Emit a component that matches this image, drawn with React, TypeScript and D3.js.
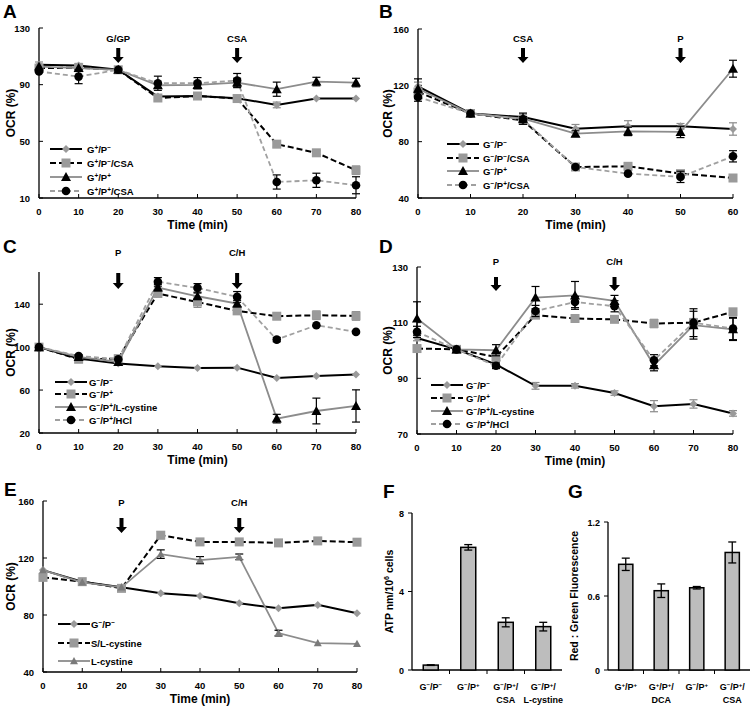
import React from 'react';
import * as d3 from 'd3';

const FONT = "'Liberation Sans', Arial, Helvetica, sans-serif";

const time80 = [0, 10, 20, 30, 40, 50, 60, 70, 80];
const time60 = [0, 10, 20, 30, 40, 50, 60];

// Panel A
const aNames = ['G{+}/P{−}', 'G{+}/P{−}/CSA', 'G{+}/P{+}', 'G{+}/P{+}/CSA'];
const aGpPm = [104, 103.5, 100.5, 81.6, 82, 80.4, 75.7, 80.2, 80.2];
const aGpPmErr = [2, 1.5, 1, 1, 1, 1, 2, 1, 1];
const aGpPmCsa = [101.7, 102, 100.5, 80.6, 82, 80.2, 48, 41.9, 29.6];
const aGpPmCsaErr = [1, 1, 1, 2, 2, 1.5, 2, 1.5, 3];
const aGpPp = [102.8, 101.7, 100.5, 89.6, 89.8, 91.5, 86.8, 92.2, 91.5];
const aGpPpErr = [1, 1, 1, 2, 2, 3, 5, 3, 3];
const aGpPpCsa = [99.3, 95.7, 100.5, 91, 91, 92.9, 21.3, 22.5, 19];
const aGpPpCsaErr = [1, 5, 1, 5, 4, 5, 5, 5, 6];

// Panel B
const bNames = ['G{−}/P{−}', 'G{−}/P{−}/CSA', 'G{−}/P{+}', 'G{−}/P{+}/CSA'];
const bGmPm = [119.3, 100, 97.5, 89.2, 90.9, 90.9, 89];
const bGmPmErr = [3, 1, 2, 3, 4, 2, 4.4];
const bGmPmCsa = [115.3, 100, 95.1, 62, 62.5, 57.3, 54.2];
const bGmPmCsaErr = [2, 1, 2, 1, 1, 2, 1];
const bGmPp = [117.6, 100, 96.3, 85.7, 87.3, 86.9, 131.8];
const bGmPpErr = [7, 1, 4, 2, 3, 4, 6];
const bGmPpCsa = [111.7, 100, 95.9, 62, 57.3, 55, 69.6];
const bGmPpCsaErr = [3, 1, 2, 1, 1, 4, 4];

// Panel C
const cNames = ['G{−}/P{−}', 'G{−}/P{+}', 'G{−}/P{+}/L-cystine', 'G{−}/P{+}/HCl'];
const cGmPm = [100, 89.3, 84.7, 82.2, 80.6, 80.9, 71.3, 73.2, 74.4];
const cGmPmErr = [1, 1, 1, 1, 1, 1, 1, 1, 1];
const cGmPp = [100, 88.7, 89.3, 150, 142, 133.8, 128.8, 129.7, 129.1];
const cGmPpErr = [1, 1, 1, 3, 5, 3, 3, 4, 4];
const cLcys = [100, 90.9, 86.2, 155.5, 147.4, 140.6, 33.4, 40.5, 45.2];
const cLcysErr = [1, 2, 1, 3, 3, 3, 4, 12, 15];
const cHcl = [100, 91.8, 88.7, 160.8, 155.2, 146.8, 107, 120.4, 114.2];
const cHclErr = [1, 1, 1, 4, 4, 5, 2, 1, 1];

// Panel D
const dNames = ['G{−}/P{−}', 'G{−}/P{+}', 'G{−}/P{+}/L-cystine', 'G{−}/P{+}/HCl'];
const dGmPm = [104.5, 100.4, 95, 87.3, 87.3, 84.7, 80, 80.8, 77.4];
const dGmPmErr = [1, 0.5, 1, 1.2, 0.8, 0.8, 2, 1.5, 1];
const dGmPp = [100.7, 100.4, 97.7, 112.7, 111.5, 111.2, 109.7, 110, 113.9];
const dGmPpErr = [1, 0.5, 1, 1, 1, 1, 1.5, 1.5, 1];
const dLcys = [111.5, 100.4, 100.1, 119, 119.8, 117.8, 94.7, 109.1, 107.6];
const dLcysErr = [6, 0.5, 2, 4, 5, 2, 2, 5, 4];
const dHcl = [106.7, 100.4, 94.5, 114.2, 117.4, 115.9, 96.5, 110, 107.9];
const dHclErr = [2, 0.5, 1, 2, 2, 2, 2, 5, 4];

// Panel E
const eNames = ['G{−}/P{−}', 'S/L-cystine', 'L-cystine'];
const eGmPm = [111.5, 103.4, 99.4, 95.2, 93.4, 88.2, 84.7, 87.1, 81.2];
const eGmPmErr = [1, 1, 1, 1, 1, 1, 1, 1, 1];
const eSLcys = [106.4, 103.4, 98.7, 136, 131.3, 131.3, 130.6, 132, 131.1];
const eSLcysErr = [1, 1, 1, 2.5, 1.5, 1.5, 1.5, 1, 1];
const eLcys = [111.5, 102.9, 99.4, 122.7, 118.5, 120.8, 67.3, 60.3, 59.8];
const eLcysErr = [1, 1, 1, 3, 2.5, 2, 2, 1, 1];

// Panel F
const fCats = [['G{−}/P{−}'], ['G{−}/P{+}'], ['G{−}/P{+}/', 'CSA'], ['G{−}/P{+}/', 'L-cystine']];
const fVals = [0.25, 6.25, 2.43, 2.21];
const fErr = [0.03, 0.14, 0.23, 0.22];
const fTicks = [0, 4, 8];

// Panel G
const gCats = [['G{+}/P{+}'], ['G{+}/P{+}/', 'DCA'], ['G{−}/P{+}'], ['G{−}/P{+}/', 'CSA']];
const gVals = [0.857, 0.643, 0.667, 0.953];
const gErr = [0.05, 0.055, 0.01, 0.085];
const gTicks = [0, 0.6, 1.2];

type StyleKey = 'bkSolidDia' | 'bkDashSq' | 'grSolidTri' | 'grDashCirc' | 'grSolidTriSmall';
const STYLES: Record<string, any> = {
  bkSolidDia: { stroke: '#000', width: 2, dash: null, marker: 'diamond', fill: '#9a9a9a', err: '#8a8a8a' },
  bkDashSq: { stroke: '#000', width: 2, dash: '6,3', marker: 'square', fill: '#9a9a9a', err: '#8a8a8a' },
  grSolidTri: { stroke: '#8c8c8c', width: 1.8, dash: null, marker: 'triangle', fill: '#000', err: '#000' },
  grDashCirc: { stroke: '#a0a0a0', width: 1.8, dash: '5,3', marker: 'circle', fill: '#000', err: '#000' },
  grSolidTriSmall: { stroke: '#8c8c8c', width: 1.8, dash: null, marker: 'triangleS', fill: '#7a7a7a', err: '#000' },
};

const Rich = ({ text, ...p }: any) => {
  const parts = text.split(/(\{[^}]*\})/).filter((s: string) => s.length);
  return (
    <text {...p}>
      {parts.map((s: string, i: number) =>
        s.startsWith('{') ? (
          <tspan key={i} baselineShift="super" fontSize="68%">{s.slice(1, -1)}</tspan>
        ) : (
          <tspan key={i}>{s}</tspan>
        )
      )}
    </text>
  );
};

const Marker = ({ kind, x, y, fill }: any) => {
  if (kind === 'diamond') {
    const s = 4;
    return <path d={`M${x},${y - s}L${x + s},${y}L${x},${y + s}L${x - s},${y}Z`} fill={fill} />;
  }
  if (kind === 'square') {
    const s = 4.5;
    return <rect x={x - s} y={y - s} width={2 * s} height={2 * s} fill={fill} />;
  }
  if (kind === 'triangle' || kind === 'triangleS') {
    const s = kind === 'triangle' ? 5 : 4;
    return <path d={`M${x},${y - s}L${x + s},${y + s * 0.8}L${x - s},${y + s * 0.8}Z`} fill={fill} />;
  }
  return <circle cx={x} cy={y} r={4.3} fill={fill} />;
};

const Arrow = ({ x, labelY, top, bottom, label }: any) => (
  <g>
    <text x={x} y={labelY} textAnchor="middle" fontFamily={FONT} fontWeight="bold" fontSize={9.5}>{label}</text>
    <path
      d={`M${x - 2},${top}L${x + 2},${top}L${x + 2},${bottom - 6}L${x + 5.5},${bottom - 6}L${x},${bottom}L${x - 5.5},${bottom - 6}L${x - 2},${bottom - 6}Z`}
      fill="#000"
    />
  </g>
);

const LinePanel = (p: any) => {
  const x = d3.scaleLinear().domain([0, p.xMax]).range([p.x0, p.x1]);
  const y = d3.scaleLinear().domain([p.yMin, p.yMax]).range([p.yBot, p.yTop]);
  const xTicks = d3.range(0, p.xMax + 1, 10);
  const line = d3.line<number>().x((_, i) => x(p.time[i])).y((d) => y(d));
  const midY = (p.yTop + p.yBot) / 2;
  return (
    <g>
      <text x={p.letter[0]} y={p.letter[1]} fontFamily={FONT} fontWeight="bold" fontSize={19}>{p.letterText}</text>
      {/* axes */}
      <line x1={p.x0} x2={p.x0} y1={p.yTop} y2={p.yBot} stroke="#000" strokeWidth={1.3} />
      <line x1={p.x0} x2={p.x1} y1={p.yBot} y2={p.yBot} stroke="#000" strokeWidth={1.3} />
      {p.yTicks.map((t: number) => (
        <g key={'y' + t}>
          <line x1={p.x0} x2={p.x0 + 4} y1={y(t)} y2={y(t)} stroke="#000" strokeWidth={1} />
          <text x={p.x0 - 9} y={y(t) + 3.5} textAnchor="end" fontFamily={FONT} fontWeight="bold" fontSize={9.5}>{t}</text>
        </g>
      ))}
      {xTicks.map((t: number) => (
        <g key={'x' + t}>
          <line x1={x(t)} x2={x(t)} y1={p.yBot} y2={p.yBot - 4} stroke="#000" strokeWidth={1} />
          <text x={x(t)} y={p.yBot + 17} textAnchor="middle" fontFamily={FONT} fontWeight="bold" fontSize={9.5}>{t}</text>
        </g>
      ))}
      <text x={(p.x0 + p.x1) / 2} y={p.yBot + 31} textAnchor="middle" fontFamily={FONT} fontWeight="bold" fontSize={12}>Time (min)</text>
      <text transform={`translate(${p.yTitleX},${midY}) rotate(-90)`} textAnchor="middle" fontFamily={FONT} fontWeight="bold" fontSize={12}>OCR (%)</text>
      {p.arrows.map((a: any, i: number) => (
        <Arrow key={i} x={x(a.t)} labelY={a.labelY} top={a.top} bottom={a.bottom} label={a.label} />
      ))}
      {/* series lines */}
      {p.series.map((s: any, i: number) => {
        const st = STYLES[s.style];
        return (
          <path key={'l' + i} d={line(s.values) || ''} fill="none" stroke={st.stroke} strokeWidth={st.width} strokeDasharray={st.dash || undefined} />
        );
      })}
      {p.series.map((s: any, i: number) => {
        const st = STYLES[s.style];
        return (
          <g key={'e' + i}>
            {s.values.map((v: number, j: number) => {
              const e = s.err[j];
              if (y(v - e) - y(v + e) < 3) return null;
              const xx = x(p.time[j]);
              return (
                <g key={j} stroke={st.err} strokeWidth={1.2}>
                  <line x1={xx} x2={xx} y1={y(v - e)} y2={y(v + e)} />
                  <line x1={xx - 4} x2={xx + 4} y1={y(v - e)} y2={y(v - e)} />
                  <line x1={xx - 4} x2={xx + 4} y1={y(v + e)} y2={y(v + e)} />
                </g>
              );
            })}
            {s.values.map((v: number, j: number) => (
              <Marker key={'m' + j} kind={st.marker} x={x(p.time[j])} y={y(v)} fill={st.fill} />
            ))}
          </g>
        );
      })}
      {/* legend */}
      {p.series.map((s: any, i: number) => {
        const st = STYLES[s.style];
        const ly = p.legend.rows[i];
        const lx = p.legend.x;
        return (
          <g key={'lg' + i}>
            <line x1={lx} x2={lx + 32} y1={ly} y2={ly} stroke={st.stroke} strokeWidth={st.width} strokeDasharray={st.dash || undefined} />
            <Marker kind={st.marker} x={lx + 16} y={ly} fill={st.fill} />
            <Rich text={s.name} x={p.legend.textX} y={ly + 3.5} fontFamily={FONT} fontWeight="bold" fontSize={9.5} />
          </g>
        );
      })}
    </g>
  );
};

const BarPanel = (p: any) => {
  const x = d3.scaleBand().domain(p.cats.map((_: any, i: number) => String(i))).range([p.x0, p.x1]).paddingInner(0.6).paddingOuter(0.3);
  const step = (p.x1 - p.x0) / p.cats.length;
  const y = d3.scaleLinear().domain([0, p.yMax]).range([p.y0, p.yTop]);
  return (
    <g>
      <text x={p.letter[0]} y={p.letter[1]} fontFamily={FONT} fontWeight="bold" fontSize={19}>{p.letterText}</text>
      <line x1={p.x0} x2={p.x0} y1={p.yTop} y2={p.y0} stroke="#000" strokeWidth={1.3} />
      <line x1={p.x0} x2={p.x1} y1={p.y0} y2={p.y0} stroke="#000" strokeWidth={1.3} />
      {p.ticks.map((t: number) => (
        <g key={t}>
          <line x1={p.x0 - 4} x2={p.x0} y1={y(t)} y2={y(t)} stroke="#000" strokeWidth={1} />
          <text x={p.x0 - 8} y={y(t) + 3.5} textAnchor="end" fontFamily={FONT} fontWeight="bold" fontSize={9}>{t}</text>
        </g>
      ))}
      {p.cats.map((_: any, i: number) =>
        i > 0 ? <line key={'t' + i} x1={p.x0 + i * step} x2={p.x0 + i * step} y1={p.y0} y2={p.y0 + 4} stroke="#000" strokeWidth={1} /> : null
      )}
      <text transform={`translate(${p.yTitleX},${(p.yTop + p.y0) / 2}) rotate(-90)`} textAnchor="middle" fontFamily={FONT} fontWeight="bold" fontSize={10.5}>
        {p.yTitle.map((s: string, i: number) =>
          s.startsWith('{') ? <tspan key={i} baselineShift="super" fontSize="68%">{s.slice(1, -1)}</tspan> : <tspan key={i}>{s}</tspan>
        )}
      </text>
      {p.vals.map((v: number, i: number) => {
        const bx = x(String(i))!;
        const bw = x.bandwidth();
        const cx = bx + bw / 2;
        const e = p.err[i];
        return (
          <g key={i}>
            <rect x={bx} y={y(v)} width={bw} height={p.y0 - y(v)} fill="#bdbdbd" stroke="#000" strokeWidth={1.5} />
            {y(v - e) - y(v + e) > 2 ? (
              <g stroke="#000" strokeWidth={1.3}>
                <line x1={cx} x2={cx} y1={y(v - e)} y2={y(v + e)} />
                <line x1={cx - 4} x2={cx + 4} y1={y(v - e)} y2={y(v - e)} />
                <line x1={cx - 4} x2={cx + 4} y1={y(v + e)} y2={y(v + e)} />
              </g>
            ) : (
              <line x1={cx - 4} x2={cx + 4} y1={y(v)} y2={y(v)} stroke="#000" strokeWidth={2} />
            )}
            {p.cats[i].map((ln: string, k: number) => (
              <Rich key={k} text={ln} x={cx} y={p.y0 + 20 + k * 13} textAnchor="middle" fontFamily={FONT} fontWeight="bold" fontSize={9} />
            ))}
          </g>
        );
      })}
    </g>
  );
};

export default function App() {
  return (
    <svg width={755} height={711} style={{ position: 'absolute', left: 0, top: 0, background: '#fff' }}>
      <rect width={755} height={711} fill="#fff" />
      <LinePanel
        letterText="A" letter={[3, 18]}
        x0={39} x1={356} yTop={28} yBot={198} yMin={10} yMax={130} yTicks={[10, 50, 90, 130]} xMax={80} time={time80}
        yTitleX={15}
        arrows={[{ t: 20, label: 'G/GP', labelY: 42, top: 48, bottom: 63 }, { t: 50, label: 'CSA', labelY: 42, top: 48, bottom: 63 }]}
        legend={{ x: 50, rows: [149, 163, 177, 191], textX: 87 }}
        series={[
          { name: aNames[0], values: aGpPm, err: aGpPmErr, style: 'bkSolidDia' },
          { name: aNames[1], values: aGpPmCsa, err: aGpPmCsaErr, style: 'bkDashSq' },
          { name: aNames[2], values: aGpPp, err: aGpPpErr, style: 'grSolidTri' },
          { name: aNames[3], values: aGpPpCsa, err: aGpPpCsaErr, style: 'grDashCirc' },
        ]}
      />
      <LinePanel
        letterText="B" letter={[379, 18]}
        x0={418} x1={733} yTop={29} yBot={198} yMin={40} yMax={160} yTicks={[40, 80, 120, 160]} xMax={60} time={time60}
        yTitleX={392}
        arrows={[{ t: 20, label: 'CSA', labelY: 42, top: 48, bottom: 63 }, { t: 50, label: 'P', labelY: 42, top: 48, bottom: 63 }]}
        legend={{ x: 447, rows: [144, 158, 171, 185], textX: 483 }}
        series={[
          { name: bNames[0], values: bGmPm, err: bGmPmErr, style: 'bkSolidDia' },
          { name: bNames[1], values: bGmPmCsa, err: bGmPmCsaErr, style: 'bkDashSq' },
          { name: bNames[2], values: bGmPp, err: bGmPpErr, style: 'grSolidTri' },
          { name: bNames[3], values: bGmPpCsa, err: bGmPpCsaErr, style: 'grDashCirc' },
        ]}
      />
      <LinePanel
        letterText="C" letter={[3, 253]}
        x0={39} x1={356} yTop={272} yBot={433} yMin={20} yMax={170} yTicks={[20, 60, 100, 140]} xMax={80} time={time80}
        yTitleX={15}
        arrows={[{ t: 20, label: 'P', labelY: 256, top: 273, bottom: 289 }, { t: 50, label: 'C/H', labelY: 256, top: 273, bottom: 289 }]}
        legend={{ x: 55, rows: [382, 394, 407, 420], textX: 89 }}
        series={[
          { name: cNames[0], values: cGmPm, err: cGmPmErr, style: 'bkSolidDia' },
          { name: cNames[1], values: cGmPp, err: cGmPpErr, style: 'bkDashSq' },
          { name: cNames[2], values: cLcys, err: cLcysErr, style: 'grSolidTri' },
          { name: cNames[3], values: cHcl, err: cHclErr, style: 'grDashCirc' },
        ]}
      />
      <LinePanel
        letterText="D" letter={[379, 253]}
        x0={417} x1={733} yTop={267} yBot={434} yMin={70} yMax={130} yTicks={[70, 90, 110, 130]} xMax={80} time={time80}
        yTitleX={392}
        arrows={[{ t: 20, label: 'P', labelY: 265, top: 277, bottom: 291 }, { t: 50, label: 'C/H', labelY: 265, top: 277, bottom: 291 }]}
        legend={{ x: 431, rows: [385, 398, 411, 424], textX: 466 }}
        series={[
          { name: dNames[0], values: dGmPm, err: dGmPmErr, style: 'bkSolidDia' },
          { name: dNames[1], values: dGmPp, err: dGmPpErr, style: 'bkDashSq' },
          { name: dNames[2], values: dLcys, err: dLcysErr, style: 'grSolidTri' },
          { name: dNames[3], values: dHcl, err: dHclErr, style: 'grDashCirc' },
        ]}
      />
      <LinePanel
        letterText="E" letter={[4, 496]}
        x0={43} x1={357} yTop={501} yBot={672} yMin={40} yMax={160} yTicks={[40, 80, 120, 160]} xMax={80} time={time80}
        yTitleX={15}
        arrows={[{ t: 20, label: 'P', labelY: 506, top: 518, bottom: 533 }, { t: 50, label: 'C/H', labelY: 506, top: 518, bottom: 533 }]}
        legend={{ x: 58, rows: [624, 643, 661], textX: 91 }}
        series={[
          { name: eNames[0], values: eGmPm, err: eGmPmErr, style: 'bkSolidDia' },
          { name: eNames[1], values: eSLcys, err: eSLcysErr, style: 'bkDashSq' },
          { name: eNames[2], values: eLcys, err: eLcysErr, style: 'grSolidTriSmall' },
        ]}
      />
      <BarPanel
        letterText="F" letter={[383, 498]}
        x0={412} x1={562} y0={670} yTop={513} yMax={8} ticks={fTicks}
        cats={fCats} vals={fVals} err={fErr}
        yTitleX={393} yTitle={['ATP nm/10', '{6}', ' cells']}
      />
      <BarPanel
        letterText="G" letter={[568, 498]}
        x0={608} x1={750} y0={670} yTop={522} yMax={1.2} ticks={gTicks}
        cats={gCats} vals={gVals} err={gErr}
        yTitleX={578} yTitle={['Red : Green Fluorescence']}
      />
    </svg>
  );
}
